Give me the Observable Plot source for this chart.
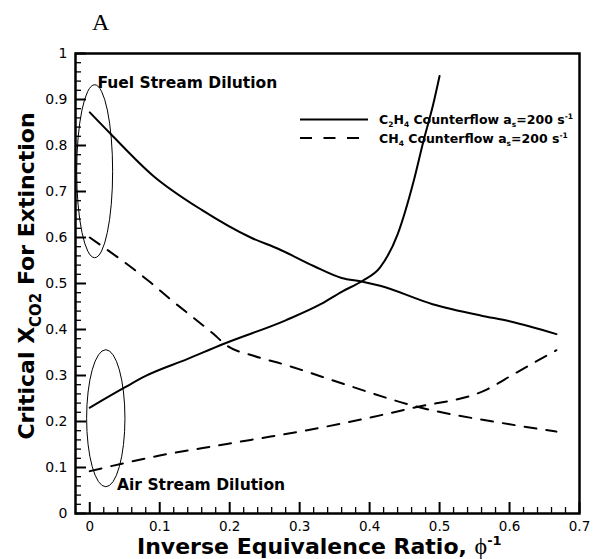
<!DOCTYPE html>
<html>
<head>
<meta charset="utf-8">
<script src="https://cdn.jsdelivr.net/npm/d3@7"></script>
<script src="https://cdn.jsdelivr.net/npm/@observablehq/plot@0.6"></script>
<style>
  body { margin: 0; background: #fff; }
  text, tspan { white-space: pre; }
</style>
</head>
<body>
<div id="chart"></div>
<script>
// ---- Data ----
const c2h4FuelX = [0, 0.03, 0.09, 0.16, 0.23, 0.27, 0.32, 0.36, 0.39, 0.415, 0.49, 0.56, 0.6, 0.667];
const c2h4FuelY = [0.872, 0.825, 0.735, 0.66, 0.6, 0.575, 0.538, 0.512, 0.504, 0.495, 0.455, 0.43, 0.418, 0.39];

const c2h4AirX = [0, 0.05, 0.08, 0.14, 0.19, 0.28, 0.33, 0.36, 0.39, 0.415, 0.44, 0.463, 0.477, 0.491, 0.5];
const c2h4AirY = [0.23, 0.274, 0.299, 0.336, 0.368, 0.42, 0.455, 0.482, 0.506, 0.535, 0.607, 0.723, 0.81, 0.89, 0.951];

const ch4FuelX = [0, 0.087, 0.115, 0.177, 0.196, 0.234, 0.28, 0.37, 0.463, 0.6, 0.667];
const ch4FuelY = [0.6, 0.502, 0.466, 0.39, 0.365, 0.343, 0.323, 0.278, 0.234, 0.194, 0.178];

const ch4AirX = [0, 0.1, 0.196, 0.23, 0.3, 0.463, 0.568, 0.606, 0.667];
const ch4AirY = [0.092, 0.126, 0.151, 0.16, 0.178, 0.23, 0.27, 0.303, 0.355];

const xTicks = [0, 0.1, 0.2, 0.3, 0.4, 0.5, 0.6, 0.7];
const yTicks = [0, 0.1, 0.2, 0.3, 0.4, 0.5, 0.6, 0.7, 0.8, 0.9, 1];

const panelTitle = "A";
const annotations = [
  {text: "Fuel Stream Dilution", x: 0.011, y: 0.925},
  {text: "Air Stream Dilution", x: 0.039, y: 0.051}
];
const ellipses = [
  {cx: 0.0077, cy: 0.743, rx: 0.0257, ry: 0.188},
  {cx: 0.0236, cy: 0.206, rx: 0.0274, ry: 0.149}
];
const legendItems = [
  {dashed: false, parts: [["C"], ["2", "sub"], ["H"], ["4", "sub"], [" Counterflow a"], ["s", "sub"], ["=200 s"], ["-1", "sup"]]},
  {dashed: true, parts: [["CH"], ["4", "sub"], [" Counterflow a"], ["s", "sub"], ["=200 s"], ["-1", "sup"]]}
];
const xLabelParts = [["Inverse Equivalence Ratio, "], ["\u03D5", null, "Liberation Serif", "normal", 24], ["-1", "sup"]];
const yLabelParts = [["Critical X"], ["CO2", "sub"], [" For Extinction"]];

// ---- Build table ----
const series = [
  {name: "C2H4 fuel", fuel: "C2H4", xs: c2h4FuelX, ys: c2h4FuelY},
  {name: "C2H4 air", fuel: "C2H4", xs: c2h4AirX, ys: c2h4AirY},
  {name: "CH4 fuel", fuel: "CH4", xs: ch4FuelX, ys: ch4FuelY},
  {name: "CH4 air", fuel: "CH4", xs: ch4AirX, ys: ch4AirY}
];
const rows = series.flatMap(s => s.xs.map((x, i) => ({x, y: s.ys[i], name: s.name, fuel: s.fuel})));

const minorX = d3.range(0, 36).map(i => i / 50).filter(v => !xTicks.some(t => Math.abs(t - v) < 1e-9));
const minorY = d3.range(0, 51).map(i => i / 50).filter(v => !yTicks.some(t => Math.abs(t - v) < 1e-9));

const W = 593, H = 559, mL = 75, mR = 14, mT = 53, mB = 46;
const plotW = W - mL - mR, plotH = H - mT - mB;

function richText(sel, parts, o) {
  let cur = 0;
  for (const [s, k, fam, wt, size] of parts) {
    const shift = k === "sub" ? o.subShift : k === "sup" ? -o.supShift : 0;
    const ts = sel.append("tspan").text(s).attr("dy", shift - cur);
    if (k === "sub") ts.attr("font-size", o.subSize);
    if (k === "sup") ts.attr("font-size", o.supSize);
    if (fam) ts.attr("font-family", fam);
    if (wt) ts.attr("font-weight", wt);
    if (size) ts.attr("font-size", size);
    cur = shift;
  }
}

const ellipseMark = (index, scales) => {
  const {x, y} = scales;
  const g = d3.create("svg:g");
  for (const e of ellipses) {
    g.append("ellipse")
      .attr("cx", x(e.cx)).attr("cy", y(e.cy))
      .attr("rx", x(e.cx + e.rx) - x(e.cx))
      .attr("ry", y(e.cy) - y(e.cy + e.ry))
      .attr("fill", "none").attr("stroke", "black").attr("stroke-width", 1);
  }
  return g.node();
};

const decorMark = (index, scales, values, dims) => {
  const g = d3.create("svg:g");
  // legend
  legendItems.forEach((item, i) => {
    const yy = dims.marginTop + 66.5 + i * 18.4;
    g.append("line")
      .attr("x1", dims.marginLeft + 225).attr("x2", dims.marginLeft + (item.dashed ? 285 : 293))
      .attr("y1", yy).attr("y2", yy)
      .attr("stroke", "black").attr("stroke-width", 2)
      .attr("stroke-dasharray", item.dashed ? "12,11.5" : null);
    const t = g.append("text")
      .attr("x", dims.marginLeft + 304).attr("y", yy + 4.7)
      .attr("text-anchor", "start")
      .attr("font-family", "DejaVu Sans").attr("font-weight", "bold").attr("font-size", 12.5)
      .attr("fill", "black");
    richText(t, item.parts, {subSize: 7.5, supSize: 7.5, subShift: 3, supShift: 5});
  });
  // x label
  const xl = g.append("text")
    .attr("x", dims.marginLeft + 62).attr("y", dims.height - 4.8)
    .attr("text-anchor", "start")
    .attr("font-family", "DejaVu Sans").attr("font-weight", "bold").attr("font-size", 22)
    .attr("fill", "black");
  richText(xl, xLabelParts, {subSize: 13, supSize: 13, subShift: 5, supShift: 9});
  // y label
  const yl = g.append("text")
    .attr("transform", `translate(33.5,${dims.marginTop + 223}) rotate(-90)`)
    .attr("text-anchor", "middle")
    .attr("font-family", "DejaVu Sans").attr("font-weight", "bold").attr("font-size", 22)
    .attr("fill", "black");
  richText(yl, yLabelParts, {subSize: 15, supSize: 15, subShift: 7, supShift: 8});
  return g.node();
};

const chart = Plot.plot({
  width: W, height: H,
  marginLeft: mL, marginRight: mR, marginTop: mT, marginBottom: mB,
  style: {fontFamily: "DejaVu Sans", fontSize: "14px", color: "black", background: "white", overflow: "visible"},
  x: {domain: [-0.0204, 0.7]},
  y: {domain: [0, 1]},
  marks: [
    Plot.ruleX(minorX, {x: d => d, insetTop: plotH - 6, stroke: "black", strokeWidth: 1.3}),
    Plot.ruleX(xTicks, {x: d => d, insetTop: plotH - 11, stroke: "black", strokeWidth: 2}),
    Plot.ruleY(minorY, {y: d => d, insetRight: plotW - 6, stroke: "black", strokeWidth: 1.3}),
    Plot.ruleY(yTicks, {y: d => d, insetRight: plotW - 11, stroke: "black", strokeWidth: 2}),
    Plot.axisX(xTicks, {tickSize: 0, tickPadding: 7.5, tickFormat: d => String(d), label: null, fontSize: 13.5}),
    Plot.axisY(yTicks, {tickSize: 0, tickPadding: 8, tickFormat: d => String(d), label: null, fontSize: 14}),
    Plot.line(rows.filter(d => d.fuel === "C2H4"), {x: "x", y: "y", z: "name", stroke: "black", strokeWidth: 2, curve: "monotone-x"}),
    Plot.line(rows.filter(d => d.fuel === "CH4"), {x: "x", y: "y", z: "name", stroke: "black", strokeWidth: 2, strokeDasharray: "12,10", curve: "monotone-x"}),
    ellipseMark,
    Plot.text(annotations, {x: "x", y: "y", text: "text", textAnchor: "start", lineAnchor: "bottom", fontWeight: "bold", fontSize: 15.5, fontFamily: "DejaVu Sans", fill: "black"}),
    Plot.text([panelTitle], {frameAnchor: "top-left", textAnchor: "start", lineAnchor: "bottom", dx: 16.5, dy: -23.5, fontFamily: "Liberation Serif", fontSize: 24, fill: "black"}),
    decorMark,
    Plot.frame({stroke: "black", strokeWidth: 2.5})
  ]
});
document.getElementById("chart").append(chart);
</script>
</body>
</html>
